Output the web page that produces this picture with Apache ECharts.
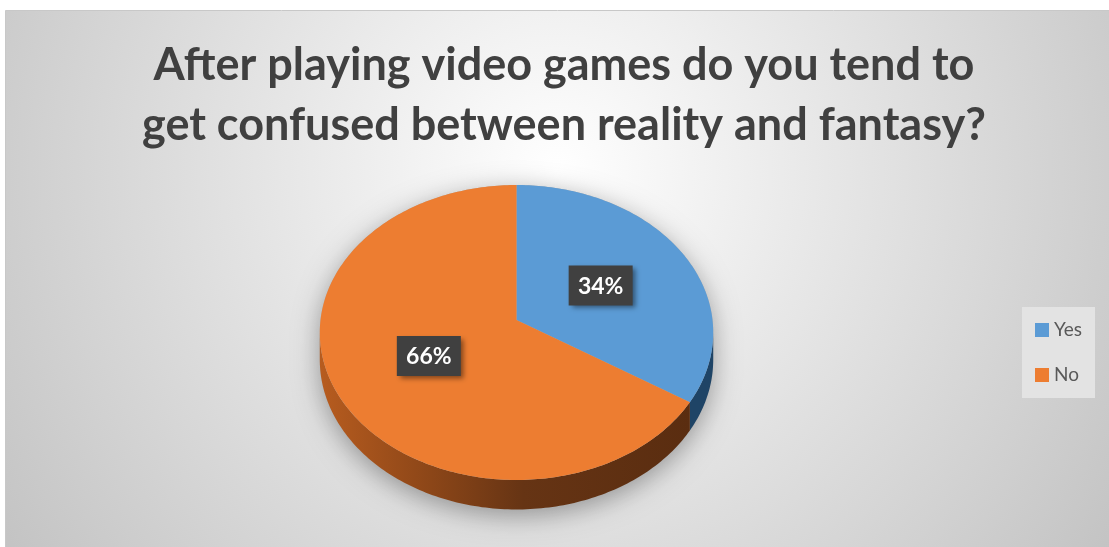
<!DOCTYPE html>
<html>
<head>
<meta charset="utf-8">
<script src="https://cdn.jsdelivr.net/npm/echarts@6/dist/echarts.min.js"></script>
<style>
  html, body { margin: 0; padding: 0; background: #ffffff; }
  #chart { width: 1109px; height: 547px; }
</style>
</head>
<body>
<div id="chart"></div>
<script>
// Survey answers
const categories = ['Yes', 'No'];
const values = [34, 66];
const titleText = 'After playing video games do you tend to\nget confused between reality and fantasy?';

// Slice colours (top face)
const topColors = ['#5b9bd5', '#ed7d31'];
const total = values.reduce((a, b) => a + b, 0);

// Tilted-disc geometry in pixels
const CX = 516.5, CY = 320, RX = 196, RY = 146.4, DIST = 11.8, DEPTH = 27;
const SIDE_FROM = Math.acos(-1 / DIST);            // first visible rim angle
const SIDE_TO = 2 * Math.PI - SIDE_FROM;           // last visible rim angle

// angle measured clockwise from 12 o'clock, f = fraction of the radius
function project(theta, f) {
  const u = f * Math.sin(theta), v = -f * Math.cos(theta);
  const s = DIST / (DIST - v);
  return [CX + RX * u * s, CY + RY * v * s, s];
}
function arc(a0, a1) {
  const pts = [];
  const n = Math.max(2, Math.ceil(Math.abs(a1 - a0) / (Math.PI / 180)));
  for (let i = 0; i <= n; i++) pts.push(project(a0 + (a1 - a0) * i / n, 1));
  return pts;
}
function sliceStart(idx) {
  let start = 0;
  for (let i = 0; i < idx; i++) start += values[i];
  return start / total * 2 * Math.PI;
}

function sideFill(idx) {
  if (idx === 0) return '#1f4466';
  return new echarts.graphic.LinearGradient(0, 0, 1, 0, [
    { offset: 0, color: '#b75c1f' },
    { offset: 0.3, color: '#8c4618' },
    { offset: 0.55, color: '#663414' },
    { offset: 1, color: '#5a2d10' }
  ]);
}

function renderSlice(idx) {
  return function (params, api) {
    const val = api.value(0);
    const a0 = sliceStart(idx);
    const a1 = a0 + val / total * 2 * Math.PI;
    const children = [];

    // side wall
    const b0 = Math.max(a0, SIDE_FROM), b1 = Math.min(a1, SIDE_TO);
    if (b1 > b0) {
      const topPts = arc(b0, b1);
      const bottom = topPts.map(p => [p[0], p[1] + DEPTH * p[2]]).reverse();
      children.push({
        type: 'polygon',
        shape: { points: topPts.map(p => [p[0], p[1]]).concat(bottom) },
        style: { fill: sideFill(idx) }
      });
    }

    // top face
    const face = [[CX, CY]].concat(arc(a0, a1).map(p => [p[0], p[1]]));
    children.push({
      type: 'polygon',
      shape: { points: face },
      style: { fill: topColors[idx] }
    });

    // value label
    const mid = (a0 + a1) / 2;
    const lp = project(mid, 0.5);
    const bw = 64, bh = 40;
    children.push({
      type: 'rect',
      shape: { x: lp[0] - bw / 2, y: lp[1] - bh / 2, width: bw, height: bh },
      style: {
        fill: '#404040',
        shadowBlur: 5, shadowOffsetX: 3, shadowOffsetY: 3,
        shadowColor: 'rgba(0,0,0,0.45)'
      }
    });
    children.push({
      type: 'text',
      x: lp[0], y: lp[1] + 1,
      style: {
        text: Math.round(val / total * 100) + '%',
        fill: '#ffffff',
        font: 'bold 23px Lato, "Open Sans", sans-serif',
        align: 'center', verticalAlign: 'middle'
      }
    });
    return { type: 'group', children: children };
  };
}

// soft drop shadow under the whole disc
function renderShadow() {
  const far = arc(SIDE_TO, SIDE_FROM + 2 * Math.PI).map(p => [p[0], p[1]]);
  const rim = arc(SIDE_FROM, SIDE_TO).map(p => [p[0], p[1] + DEPTH * p[2]]);
  return {
    type: 'polygon',
    shape: { points: far.concat(rim) },
    style: {
      fill: '#b0b0b0',
      shadowBlur: 26, shadowOffsetY: 6,
      shadowColor: 'rgba(0,0,0,0.35)'
    }
  };
}

const chart = echarts.init(document.getElementById('chart'), null, { renderer: 'canvas' });

const series = [{
  type: 'custom',
  name: 'shadow',
  coordinateSystem: 'none',
  silent: true,
  z: 1,
  data: [[0]],
  renderItem: renderShadow
}];
categories.forEach((name, i) => {
  series.push({
    type: 'custom',
    name: name,
    coordinateSystem: 'none',
    silent: true,
    z: 2,
    itemStyle: { color: topColors[i] },
    data: [[values[i]]],
    renderItem: renderSlice(i)
  });
});

chart.setOption({
  animation: false,
  graphic: [{
    type: 'rect',
    z: -100,
    silent: true,
    shape: { x: 5.5, y: 10.5, width: 1104, height: 537 },
    style: {
      fill: new echarts.graphic.RadialGradient(0.5, 0.3, 1.27, [
        { offset: 0, color: '#ffffff' },
        { offset: 1, color: '#c2c2c2' }
      ]),
      stroke: '#c8c8c8',
      lineWidth: 1
    }
  }],
  title: {
    text: titleText,
    left: 559,
    textAlign: 'center',
    top: 30,
    textStyle: {
      fontFamily: 'Lato, "Open Sans", sans-serif',
      fontWeight: 'bold',
      fontSize: 45,
      lineHeight: 60,
      color: '#404040'
    }
  },
  legend: {
    data: categories,
    orient: 'vertical',
    left: 1022,
    top: 307,
    padding: [13, 13, 13, 13],
    backgroundColor: '#e3e3e3',
    itemWidth: 14,
    itemHeight: 14,
    itemGap: 25,
    icon: 'rect',
    selectedMode: false,
    textStyle: {
      fontFamily: 'Lato, "Open Sans", sans-serif',
      fontSize: 19,
      lineHeight: 20,
      color: '#595959'
    }
  },
  series: series
});
</script>
</body>
</html>
